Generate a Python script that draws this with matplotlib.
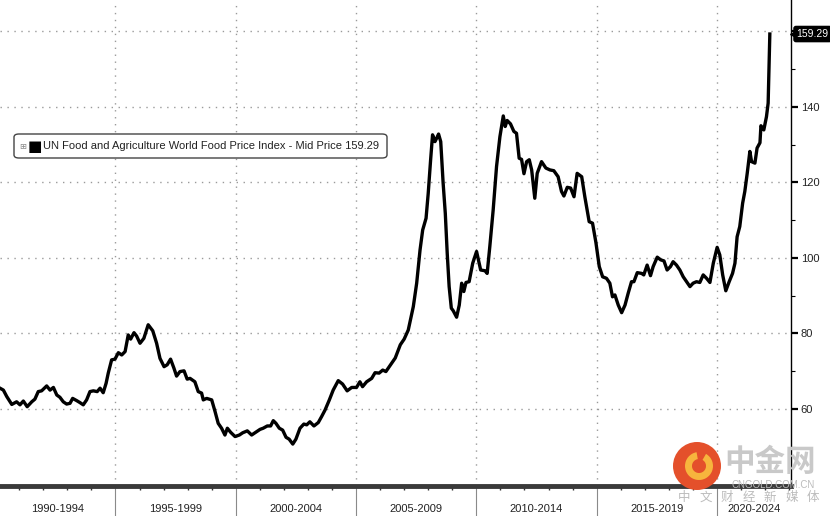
import matplotlib
matplotlib.use('Agg')
import matplotlib.pyplot as plt
import matplotlib.transforms as mtransforms
from matplotlib.patches import FancyBboxPatch, Circle, Wedge
from matplotlib.ticker import FixedLocator, NullFormatter

# FAO food price index (decimal year, index value)
years = [1990.20, 1990.34, 1990.48, 1990.69, 1990.89, 1991.03, 1991.17, 1991.33, 1991.52, 1991.65,
         1991.79, 1991.93, 1992.14, 1992.28, 1992.42, 1992.56, 1992.69, 1992.83, 1992.97, 1993.11,
         1993.22, 1993.39, 1993.52, 1993.66, 1993.80, 1993.94, 1994.08, 1994.24, 1994.36, 1994.49,
         1994.61, 1994.70, 1994.84, 1994.98, 1995.12, 1995.26, 1995.40, 1995.53, 1995.63, 1995.77,
         1995.88, 1996.02, 1996.18, 1996.36, 1996.55, 1996.71, 1996.85, 1997.02, 1997.15, 1997.29,
         1997.43, 1997.54, 1997.68, 1997.85, 1997.98, 1998.10, 1998.30, 1998.44, 1998.58, 1998.65,
         1998.79, 1999.00, 1999.14, 1999.27, 1999.41, 1999.55, 1999.65, 1999.79, 1999.97, 2000.15,
         2000.29, 2000.48, 2000.66, 2000.87, 2001.01, 2001.14, 2001.31, 2001.45, 2001.56, 2001.67,
         2001.81, 2001.95, 2002.09, 2002.22, 2002.37, 2002.50, 2002.67, 2002.83, 2002.95, 2003.08,
         2003.25, 2003.43, 2003.57, 2003.71, 2003.89, 2004.05, 2004.26, 2004.44, 2004.63, 2004.82,
         2005.02, 2005.16, 2005.27, 2005.44, 2005.65, 2005.79, 2005.96, 2006.11, 2006.24, 2006.38,
         2006.63, 2006.84, 2007.00, 2007.17, 2007.38, 2007.52, 2007.66, 2007.77, 2007.91, 2008.00,
         2008.10, 2008.18, 2008.28, 2008.35, 2008.43, 2008.52, 2008.62, 2008.71, 2008.79, 2008.87,
         2008.96, 2009.04, 2009.18, 2009.29, 2009.39, 2009.48, 2009.57, 2009.70, 2009.85, 2010.01,
         2010.18, 2010.36, 2010.45, 2010.56, 2010.70, 2010.84, 2010.98, 2011.12, 2011.20, 2011.28,
         2011.42, 2011.56, 2011.67, 2011.78, 2011.88, 2011.98, 2012.09, 2012.20, 2012.30, 2012.43,
         2012.53, 2012.71, 2012.89, 2013.06, 2013.22, 2013.40, 2013.54, 2013.64, 2013.78, 2013.92,
         2014.06, 2014.19, 2014.38, 2014.51, 2014.69, 2014.83, 2014.97, 2015.11, 2015.25, 2015.41,
         2015.55, 2015.66, 2015.76, 2015.90, 2016.04, 2016.18, 2016.31, 2016.45, 2016.55, 2016.69,
         2016.87, 2016.96, 2017.10, 2017.24, 2017.35, 2017.52, 2017.66, 2017.80, 2017.93, 2018.07,
         2018.18, 2018.32, 2018.46, 2018.60, 2018.74, 2018.88, 2019.01, 2019.15, 2019.29, 2019.43,
         2019.57, 2019.71, 2019.85, 2020.01, 2020.12, 2020.24, 2020.37, 2020.51, 2020.65, 2020.75,
         2020.84, 2020.95, 2021.07, 2021.16, 2021.26, 2021.37, 2021.44, 2021.58, 2021.67, 2021.79,
         2021.83, 2021.95, 2022.06, 2022.13, 2022.20]
values = [65.5, 65.0, 63.3, 61.2, 61.9, 61.1, 62.1, 60.6, 61.9, 62.6,
          64.6, 64.8, 66.1, 65.0, 65.7, 63.7, 63.1, 61.9, 61.3, 61.5,
          62.8, 62.2, 61.7, 61.1, 62.4, 64.6, 64.8, 64.6, 65.5, 64.3,
          66.8, 69.5, 73.0, 73.2, 74.9, 74.3, 75.2, 79.6, 78.5, 80.2,
          79.3, 77.4, 78.7, 82.3, 80.7, 77.4, 73.4, 71.2, 71.7, 73.2,
          70.8, 68.7, 69.9, 70.1, 67.9, 68.1, 67.2, 64.6, 64.2, 62.4,
          62.8, 62.4, 59.3, 56.2, 54.9, 53.1, 54.9, 53.8, 52.7, 53.1,
          53.7, 54.2, 53.1, 54.0, 54.6, 54.9, 55.5, 55.5, 56.9, 56.2,
          54.9, 54.4, 52.5, 52.0, 50.7, 52.0, 54.9, 56.0, 55.8, 56.6,
          55.5, 56.4, 58.0, 59.7, 62.4, 65.0, 67.5, 66.6, 64.8, 65.7,
          65.7, 67.2, 65.9, 67.2, 68.1, 69.6, 69.5, 70.3, 69.9, 71.2,
          73.5, 77.0, 78.5, 80.9, 87.1, 93.3, 102.1, 107.4, 110.5, 117.1,
          126.0, 132.6, 130.8, 131.7, 132.8, 130.8, 119.8, 111.8, 101.2, 92.4,
          86.7, 86.0, 84.3, 87.5, 93.3, 91.1, 93.5, 93.7, 98.6, 101.7,
          96.8, 96.6, 95.9, 103.0, 112.7, 124.2, 132.1, 137.6, 134.8, 136.4,
          135.5, 133.5, 133.0, 126.4, 126.1, 122.3, 125.5, 126.0, 123.3, 115.8,
          122.4, 125.5, 123.8, 123.3, 123.1, 121.5, 117.6, 116.4, 118.7, 118.5,
          116.2, 122.4, 121.5, 116.2, 109.6, 109.2, 104.1, 97.7, 95.0, 94.6,
          93.3, 89.7, 90.2, 87.5, 85.5, 87.5, 90.6, 93.7, 93.7, 96.1,
          95.9, 95.5, 98.1, 95.3, 97.7, 100.2, 99.5, 99.2, 96.8, 97.7,
          99.0, 98.1, 96.8, 95.0, 93.7, 92.4, 93.3, 93.7, 93.5, 95.5,
          94.6, 93.5, 98.6, 102.8, 100.8, 95.5, 91.3, 93.7, 95.9, 98.6,
          105.6, 108.3, 114.5, 117.6, 122.4, 128.2, 125.5, 125.1, 129.1, 130.5,
          135.0, 133.9, 137.4, 141.0, 159.29]

period_starts = [1990, 1995, 2000, 2005, 2010, 2015, 2020]
period_labels = ['1990-1994', '1995-1999', '2000-2004', '2005-2009',
                 '2010-2014', '2015-2019', '2020-2024']
ytick_vals = [60, 80, 100, 120, 140, 160]
ytick_labels = ['60', '80', '100', '120', '140', '']
last_value = 159.29
series_name = 'UN Food and Agriculture World Food Price Index - Mid Price'

plt.rcParams['font.family'] = ['Liberation Sans', 'DejaVu Sans']

W, H = 830, 516
fig = plt.figure(figsize=(W / 100, H / 100), dpi=100)
ax = fig.add_axes([0, 30 / H, 791 / W, 486 / H])

ax.plot(years, values, color='black', lw=2.4, solid_joinstyle='round', zorder=3)

x0, x1 = 1990.2, 2023.08
ax.set_xlim(x0, x1)
ax.set_ylim(39.6, 168.3)

# spines
for s in ['top', 'left']:
    ax.spines[s].set_visible(False)
ax.spines['right'].set_color('black')
ax.spines['right'].set_linewidth(1)
ax.spines['bottom'].set_color('#3a3a3a')
ax.spines['bottom'].set_linewidth(3.5)

# x ticks: long separators at period starts, short yearly ticks
ax.xaxis.set_major_locator(FixedLocator(period_starts))
ax.xaxis.set_major_formatter(NullFormatter())
ax.xaxis.set_minor_locator(FixedLocator(range(1991, 2024)))
ax.tick_params(axis='x', which='major', length=22, width=0.8, color='#8a8a8a', direction='out')
ax.tick_params(axis='x', which='minor', length=3, width=1, color='#333333', direction='out')

for start, lab in zip(period_starts, period_labels):
    mid = (max(start, x0) + min(start + 5, x1)) / 2
    ax.text(mid, -0.048, lab, transform=ax.get_xaxis_transform(),
            ha='center', va='center', fontsize=8, color='#222222')

# right y axis
ax.yaxis.tick_right()
ax.set_yticks(ytick_vals)
ax.set_yticklabels(ytick_labels)
ax.yaxis.set_minor_locator(FixedLocator([50, 70, 90, 110, 130, 150]))
ax.tick_params(axis='y', which='major', length=5, width=1.6, color='black', pad=2,
               labelsize=8, labelcolor='#222222')
ax.tick_params(axis='y', which='minor', length=3, width=0.8, color='black')

ax.grid(which='major', color='#9a9a9a', linestyle=(0, (1, 4)), lw=1)

# last price tag
blend = mtransforms.blended_transform_factory(ax.transAxes, ax.transData)
tri_tr = mtransforms.offset_copy(blend, fig=fig, x=5, y=0, units='dots')
ax.plot([1.0], [last_value], marker='<', ms=9, color='black', transform=tri_tr,
        clip_on=False, zorder=5)
ax.annotate(f'{last_value:.2f}', xy=(1.0, last_value), xycoords=blend,
            xytext=(4.0, 0), textcoords='offset points', ha='left', va='center',
            fontsize=7.5, color='white', annotation_clip=False, zorder=7,
            bbox=dict(boxstyle='round,pad=0.25,rounding_size=0.2', fc='black', ec='black'))

# legend box
fig.add_artist(FancyBboxPatch((14 / W, 1 - 158 / H), 373 / W, 24 / H,
                              boxstyle='round,pad=0,rounding_size=0.006',
                              transform=fig.transFigure, fc='white', ec='#444444', lw=1, zorder=6))
fig.text(19 / W, 1 - 146 / H, '\u229e', fontsize=6, color='#888888', va='center',
         family=['DejaVu Sans'], zorder=7)
fig.text(28 / W, 1 - 146 / H, '\u25a0', fontsize=11, color='black', va='center',
         family=['DejaVu Sans'], zorder=7)
fig.text(43 / W, 1 - 146 / H, f'{series_name} {last_value:.2f}', fontsize=8,
         color='#222222', va='center', zorder=7)

# watermark (pixel coords)
px = mtransforms.IdentityTransform()
fig.add_artist(Circle((697, H - 466), 24, transform=px, fc='#e4502b', ec='none', zorder=8))
fig.add_artist(Wedge((699, H - 466), 14, 100, 420, width=7, transform=px,
                     fc='#f7b53d', ec='none', zorder=8))
fig.text(770 / W, 1 - 462 / H, '中金网', fontsize=22, fontweight='bold', color='#c9c9c9',
         ha='center', va='center', family=['Noto Sans CJK SC'], zorder=8)
fig.text(773 / W, 1 - 485 / H, 'CNGOLD.COM.CN', fontsize=7, color='#bbbbbb',
         ha='center', va='center', zorder=8)
for i, ch in enumerate('中文财经新媒体'):
    fig.text((684 + i * 21.5) / W, 1 - 497 / H, ch, fontsize=9, color='#bcbcbc',
             ha='center', va='center', family=['Noto Sans CJK SC'], zorder=8)

fig.savefig('out.png', dpi=100, facecolor='white')
